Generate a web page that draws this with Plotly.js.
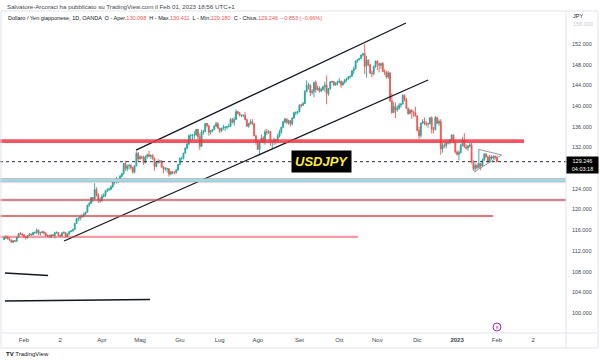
<!DOCTYPE html>
<html><head><meta charset="utf-8">
<script src="https://cdn.plot.ly/plotly-3.0.1.min.js"></script>
<style>html,body{margin:0;padding:0;background:#fff}#chart{width:600px;height:360px}</style>
</head><body><div id="chart"></div>
<script>
// ---- DATA (USD/JPY daily, OANDA, from 2022-01-17 to 2023-02-01, weekdays) ----
const startDate = '2022-01-17';
const open = [
114.18,114.60,114.62,114.32,114.12,113.68,113.94,113.86,114.64,115.34,115.24,
115.10,114.68,114.58,114.98,115.22,115.08,115.55,115.58,116.02,115.42,115.58,115.68,115.48,114.92,115.02,114.72,115.08,114.98,115.52,115.58,
114.98,114.90,115.48,115.52,114.82,115.28,115.72,115.88,116.12,117.30,118.22,118.32,118.72,118.62,119.18,119.48,120.82,121.18,122.32,122.04,123.84,122.82,121.82,
121.68,122.52,122.78,123.62,123.82,123.98,124.34,125.42,125.38,125.62,125.88,126.42,126.92,128.88,127.92,128.40,128.52,128.12,127.22,128.42,130.82,
129.78,130.18,130.08,129.10,130.22,130.58,130.30,130.42,129.92,128.32,129.22,129.18,129.38,128.22,127.78,127.88,127.90,126.88,127.32,127.12,127.10,127.62,
128.68,129.88,129.90,130.88,131.88,132.62,134.28,134.38,134.40,134.40,135.48,134.08,132.22,134.98,135.08,136.62,136.22,134.92,135.22,135.48,136.12,136.58,
135.72,135.20,135.70,135.88,135.92,136.00,136.10,137.42,136.88,137.42,138.92,138.58,138.18,138.20,138.22,137.38,136.10,136.68,136.98,136.60,134.28,
133.28,131.62,133.18,133.82,133.00,135.02,134.92,135.08,132.92,132.98,133.48,133.32,134.20,134.98,135.90,136.98,137.48,136.80,137.18,136.58,137.68,138.72,138.78,
138.90,140.22,140.18,140.50,142.80,143.98,144.08,142.62,142.80,144.58,143.18,143.48,142.92,143.18,143.72,144.08,142.38,143.38,144.70,144.78,144.12,144.42,
144.70,144.82,144.12,144.58,145.08,145.28,145.68,145.78,146.82,147.20,148.70,148.98,149.22,149.88,150.12,147.68,148.92,147.98,146.38,146.30,147.62,
148.70,148.18,147.88,148.22,146.62,146.58,145.62,146.38,141.02,138.78,139.92,139.28,139.58,140.18,140.38,142.08,141.22,139.58,138.58,139.18,138.92,138.68,
138.08,135.30,134.28,136.72,137.02,136.58,136.52,136.58,137.72,135.58,135.48,137.80,136.68,137.02,131.72,132.42,132.38,132.88,132.90,133.50,134.42,133.08,
131.10,130.68,131.00,132.42,133.38,132.08,131.88,132.28,132.48,129.22,127.88,128.52,128.12,128.88,128.42,129.58,130.72,130.18,129.22,130.22,129.88,130.28,
130.098];
const high = [
114.66,115.06,114.90,114.62,114.20,114.08,114.10,114.70,115.48,115.68,115.50,
115.20,114.78,115.05,115.48,115.38,115.68,115.72,116.34,116.10,115.62,115.88,115.82,115.58,115.18,115.12,115.22,115.28,115.72,115.78,115.62,
115.20,115.62,115.80,115.60,115.40,115.82,116.02,116.30,117.38,118.38,118.48,118.88,119.10,119.40,119.58,120.95,121.42,122.42,122.45,125.10,124.30,123.18,122.40,
122.98,123.18,123.70,124.08,124.20,124.68,125.78,125.62,126.32,125.92,126.68,127.08,128.98,129.42,128.68,128.82,128.78,128.30,128.58,131.25,131.12,
130.48,130.38,130.40,130.42,130.78,131.35,130.68,130.70,130.02,129.38,129.78,129.58,129.50,128.38,128.20,128.10,127.98,127.42,127.48,127.40,127.88,128.80,
130.10,130.20,131.00,132.00,133.00,134.48,134.58,134.62,135.20,135.58,135.60,134.68,135.42,135.40,136.72,136.72,136.32,135.40,135.60,136.38,136.98,136.88,
135.82,135.82,136.40,136.08,136.18,136.58,137.70,137.72,137.88,139.38,139.10,138.88,138.40,138.40,138.88,137.58,136.72,137.42,137.48,136.62,134.40,
133.40,133.20,134.52,134.20,135.50,135.58,135.38,135.20,133.38,133.90,133.68,134.68,135.40,135.98,137.18,137.70,137.62,137.38,137.28,137.80,138.90,138.98,139.08,
140.28,140.38,140.80,143.08,144.99,144.50,144.18,143.30,144.70,144.94,143.98,143.80,143.58,143.88,144.70,145.90,143.48,144.78,144.88,144.80,144.60,144.90,
145.42,144.90,144.80,145.20,145.48,145.80,145.90,146.90,147.62,148.82,149.08,149.30,149.92,150.30,151.94,149.70,149.00,148.10,146.88,147.88,148.80,
148.82,148.40,148.40,148.50,147.12,146.80,146.78,146.60,142.48,140.80,140.70,140.10,140.60,140.60,142.28,142.22,141.62,139.68,139.40,139.38,139.00,139.88,
138.20,135.98,136.80,137.48,137.82,137.10,136.80,137.88,138.00,135.98,138.10,137.88,137.40,137.48,132.88,132.80,133.00,133.08,133.60,134.50,134.50,133.18,
131.38,131.42,132.70,134.08,134.78,132.68,132.48,132.88,132.90,129.50,128.88,128.90,131.58,128.90,129.88,130.90,130.90,130.48,130.60,130.48,130.48,130.48,
130.411];
const low = [
114.15,114.30,114.22,114.00,113.62,113.47,113.72,113.80,114.50,115.10,114.92,
114.56,114.15,114.38,114.88,114.98,115.02,115.28,115.22,115.02,114.95,115.38,115.20,114.82,114.72,114.62,114.55,114.88,114.40,115.30,114.82,
114.68,114.78,115.28,114.65,114.78,115.10,115.60,115.70,116.02,117.20,117.70,117.85,118.32,118.50,118.90,119.40,120.50,121.10,121.40,121.98,122.48,121.30,121.28,
121.60,122.32,122.40,123.40,123.60,123.70,124.28,124.80,125.02,125.08,125.80,126.20,126.78,127.48,127.40,127.72,127.72,126.95,127.02,128.38,129.32,
129.68,129.78,128.62,128.88,129.82,130.18,129.82,129.62,127.52,128.12,128.82,128.90,128.00,127.02,127.52,127.12,126.36,126.62,126.80,126.90,127.00,127.50,
128.58,129.50,129.70,130.80,131.62,132.50,133.20,133.40,133.62,134.30,133.58,131.50,132.10,134.48,134.98,135.90,134.28,134.50,134.98,135.32,135.92,135.60,
134.78,135.00,135.38,135.20,135.50,135.88,136.00,136.60,136.20,137.30,138.40,138.00,137.82,137.88,137.38,135.98,135.80,136.40,136.30,134.20,132.50,
131.58,130.40,132.90,132.80,132.52,134.38,134.62,132.30,131.72,132.50,132.58,133.08,133.90,134.60,135.80,136.68,136.50,136.40,136.08,136.20,137.58,138.20,138.38,
138.80,139.70,140.02,140.40,142.70,143.20,141.90,142.20,141.70,142.58,143.00,142.60,142.68,143.00,142.80,140.35,142.00,143.10,144.40,143.80,143.90,144.00,
144.40,143.52,143.92,144.28,144.70,145.10,145.30,145.70,146.20,147.10,148.40,148.82,149.10,149.60,146.20,145.50,147.70,146.20,145.60,145.90,147.40,
146.98,146.50,147.20,146.58,146.00,145.30,145.30,140.80,138.48,138.70,137.68,138.90,139.30,139.70,140.30,140.90,139.50,138.30,138.40,137.50,137.90,137.98,
135.10,133.62,133.90,136.50,136.30,136.10,135.80,136.50,134.70,134.70,135.30,136.50,136.20,130.58,130.98,131.90,131.80,132.60,132.60,133.30,132.80,130.80,
130.40,129.52,130.80,132.20,131.98,131.58,131.30,132.00,128.88,127.48,127.22,127.80,127.98,127.58,128.20,129.40,130.00,129.08,129.00,129.62,129.80,129.80,
129.180];
const close = [
114.60,114.62,114.32,114.12,113.68,113.94,113.86,114.64,115.34,115.24,115.10,
114.68,114.58,114.98,115.22,115.08,115.55,115.58,116.02,115.42,115.58,115.68,115.48,114.92,115.02,114.72,115.08,114.98,115.52,115.58,114.98,
114.90,115.48,115.52,114.82,115.28,115.72,115.88,116.12,117.30,118.22,118.32,118.72,118.62,119.18,119.48,120.82,121.18,122.32,122.04,123.84,122.82,121.82,121.68,
122.52,122.78,123.62,123.82,123.98,124.34,125.42,125.38,125.62,125.88,126.42,126.92,128.88,127.92,128.40,128.52,128.12,127.22,128.42,130.82,129.78,
130.18,130.08,129.10,130.22,130.58,130.30,130.42,129.92,128.32,129.22,129.18,129.38,128.22,127.78,127.88,127.90,126.88,127.32,127.12,127.10,127.62,128.68,
129.88,129.90,130.88,131.88,132.62,134.28,134.38,134.40,134.40,135.48,134.08,132.22,134.98,135.08,136.62,136.22,134.92,135.22,135.48,136.12,136.58,135.72,
135.20,135.70,135.88,135.92,136.00,136.10,137.42,136.88,137.42,138.92,138.58,138.18,138.20,138.22,137.38,136.10,136.68,136.98,136.60,134.28,133.28,
131.62,133.18,133.82,133.00,135.02,134.92,135.08,132.92,132.98,133.48,133.32,134.20,134.98,135.90,136.98,137.48,136.80,137.18,136.58,137.68,138.72,138.78,138.90,
140.22,140.18,140.50,142.80,143.98,144.08,142.62,142.80,144.58,143.18,143.48,142.92,143.18,143.72,144.08,142.38,143.38,144.70,144.78,144.12,144.42,144.70,
144.82,144.12,144.58,145.08,145.28,145.68,145.78,146.82,147.20,148.70,148.98,149.22,149.88,150.12,147.68,148.92,147.98,146.38,146.30,147.62,148.70,
148.18,147.88,148.22,146.62,146.58,145.62,146.38,141.02,138.78,139.92,139.28,139.58,140.18,140.38,142.08,141.22,139.58,138.58,139.18,138.92,138.68,138.08,
135.30,134.28,136.72,137.02,136.58,136.52,136.58,137.72,135.58,135.48,137.80,136.68,137.02,131.72,132.42,132.38,132.88,132.90,133.50,134.42,133.08,131.10,
130.68,131.00,132.42,133.38,132.08,131.88,132.28,132.48,129.22,127.88,128.52,128.12,128.88,128.42,129.58,130.72,130.18,129.22,130.22,129.88,130.28,130.10,
129.246];

// x-axis month labels (Italian TradingView) and the month each one marks
const tickMonths = ['2022-02','2022-03','2022-04','2022-05','2022-06','2022-07','2022-08','2022-09','2022-10','2022-11','2022-12','2023-01','2023-02','2023-03'];
const tickLabels = ['Feb','2','Apr','Mag','Giu','Lug','Ago','Set','Ott','Nov','Dic','<b>2023</b>','Feb','2'];
// price axis
const priceTicks = [100,104,108,112,116,120,124,132,136,140,144,148,152];

// drawings (bar index, price)
const upperChX = [72.8, 221.8],  upperChY = [131.5, 156.06];
const lowerChX = [33.1, 234.0],  lowerChY = [113.92, 145.04];
const triTopX  = [261.7, 274.6], triTopY  = [131.64, 130.54];
const triBotX  = [259.5, 274.6], triBotY  = [127.31, 130.54];
const segAX = [0.5, 24.3], segAY = [107.73, 107.25];
const segBX = [0.5, 80.5], segBY = [102.32, 102.61];
// horizontal zones / levels
const bandLow  = [132.88, 125.30, 121.66];
const bandHigh = [133.60, 125.98, 122.02];
const bandEnd  = [286.9, 330, 330];
const lineLevels = [118.75, 114.70];
const lineEnd    = [269.8, 195.3];

// ---- build ----
const idx = open.map((_, i) => i);
// weekday calendar to locate the first bar of each month
const firstBarOfMonth = {};
{
  let d = new Date(startDate + 'T00:00:00Z'), k = 0;
  while (k < 330) {
    const wd = d.getUTCDay();
    if (wd !== 0 && wd !== 6) {
      const m = d.toISOString().slice(0, 7);
      if (!(m in firstBarOfMonth)) firstBarOfMonth[m] = k;
      k++;
    }
    d.setUTCDate(d.getUTCDate() + 1);
  }
}
const tickVals = tickMonths.map(m => firstBarOfMonth[m]);

// pixel geometry of the plotting area
const W = 600, H = 360, PL = 0, PR = 566, PT = 11, PB = 333;
const px = x => (x - PL) / (PR - PL);
const py = y => (PB - y) / (PB - PT);

const FONT = 'Liberation Sans, Arial, sans-serif';
const lastClose = close[close.length - 1];

const traces = [
  {
    type: 'candlestick', x: idx, open, high, low, close,
    increasing: {line: {color: '#26a69a', width: 0.9}, fillcolor: '#26a69a'},
    decreasing: {line: {color: '#ef5350', width: 0.9}, fillcolor: '#ef5350'},
    whiskerwidth: 0, hoverinfo: 'skip', showlegend: false
  },
  {type: 'scatter', mode: 'lines', x: upperChX, y: upperChY, line: {color: '#131722', width: 1.3}, hoverinfo: 'skip'},
  {type: 'scatter', mode: 'lines', x: lowerChX, y: lowerChY, line: {color: '#131722', width: 1.3}, hoverinfo: 'skip'},
  {type: 'scatter', mode: 'lines', x: triTopX, y: triTopY, line: {color: '#9598a1', width: 1}, hoverinfo: 'skip'},
  {type: 'scatter', mode: 'lines', x: triBotX, y: triBotY, line: {color: '#9598a1', width: 1}, hoverinfo: 'skip'},
  {type: 'scatter', mode: 'lines', x: segAX, y: segAY, line: {color: '#131722', width: 1.4}, hoverinfo: 'skip'},
  {type: 'scatter', mode: 'lines', x: segBX, y: segBY, line: {color: '#131722', width: 1.4}, hoverinfo: 'skip'}
];

const bandFill = ['rgba(242,54,69,0.85)', '#8fe3ee', 'rgba(150,90,95,0.6)'];
const bandLine = ['rgba(242,54,69,0)', 'rgba(242,110,120,0.5)', 'rgba(242,54,69,0.3)'];
const shapes = [];
bandLow.forEach((lo, i) => shapes.push({
  type: 'rect', xref: 'x', yref: 'y', x0: -10, x1: bandEnd[i], y0: lo, y1: bandHigh[i],
  fillcolor: bandFill[i], line: {color: bandLine[i], width: 1}, layer: 'above'
}));
const lineCol = ['rgba(225,70,78,0.75)', 'rgba(242,54,69,0.5)'];
lineLevels.forEach((v, i) => shapes.push({
  type: 'line', xref: 'x', yref: 'y', x0: -10, x1: lineEnd[i], y0: v, y1: v,
  line: {color: lineCol[i], width: 2.2}, layer: 'above'
}));
// last price dotted line
shapes.push({type: 'line', xref: 'paper', yref: 'y', x0: 0, x1: 1, y0: lastClose, y1: lastClose,
  line: {color: '#2a2e39', width: 1, dash: 'dot'}, layer: 'above'});
// frame / separators
shapes.push({type: 'rect', xref: 'paper', yref: 'paper', x0: px(1), x1: px(598), y0: py(11), y1: py(348),
  line: {color: '#e0e3eb', width: 1}, fillcolor: 'rgba(0,0,0,0)'});
shapes.push({type: 'line', xref: 'paper', yref: 'paper', x0: px(566), x1: px(566), y0: py(11), y1: py(348),
  line: {color: '#e0e3eb', width: 1}});
shapes.push({type: 'line', xref: 'paper', yref: 'paper', x0: px(1), x1: px(598), y0: py(333), y1: py(333),
  line: {color: '#e0e3eb', width: 1}});
// event marker
shapes.push({type: 'circle', xref: 'paper', yref: 'paper', x0: px(493), x1: px(501), y0: py(331), y1: py(323),
  line: {color: '#9c27b0', width: 1}, fillcolor: '#fff'});

const red = '#ef5350';
const annotations = [
  {xref: 'paper', yref: 'paper', x: px(5), y: py(7), xanchor: 'left', yanchor: 'middle', showarrow: false,
   text: 'Salvatore-Arcoraci ha pubblicato su TradingView.com il Feb 01, 2023 18:56 UTC+1',
   font: {family: FONT, size: 6.2, color: '#434651'}},
  {xref: 'paper', yref: 'paper', x: px(6), y: py(17.5), xanchor: 'left', yanchor: 'middle', showarrow: false,
   text: 'Dollaro / Yen giapponese, 1D, OANDA  O - Aper.<span style="color:' + red + '">130.098</span>  H - Max.<span style="color:' + red + '">130.411</span>  L - Min.<span style="color:' + red + '">129.180</span>  C - Chius.<span style="color:' + red + '">129.246  \u22120.853 (\u22120.66%)</span>',
   font: {family: FONT, size: 5.5, color: '#131722'}},
  {xref: 'paper', yref: 'paper', x: px(571), y: py(16), xanchor: 'left', yanchor: 'middle', showarrow: false,
   text: 'JPY', font: {family: FONT, size: 5.5, color: '#131722'}},
  {xref: 'paper', yref: 'paper', x: px(571), y: py(23.5), xanchor: 'left', yanchor: 'middle', showarrow: false,
   text: '156.000', font: {family: FONT, size: 5.5, color: '#c8cad0'}},
  {xref: 'paper', yref: 'paper', x: px(321.5), y: py(161.5), xanchor: 'center', yanchor: 'middle', showarrow: false,
   text: '<b><i>USDJPY</i></b>', bgcolor: '#000', borderpad: 3,
   font: {family: FONT, size: 13, color: '#ffeb3b'}},
  {xref: 'paper', yref: 'paper', x: px(582), y: py(164.5), xanchor: 'center', yanchor: 'middle', showarrow: false,
   text: '129.246<br>04:03:18', bgcolor: '#000', width: 30, height: 15, borderpad: 0.5,
   font: {family: FONT, size: 5.5, color: '#fff'}},
  {xref: 'paper', yref: 'paper', x: px(497), y: py(327), xanchor: 'center', yanchor: 'middle', showarrow: false,
   text: 'E', font: {family: FONT, size: 4, color: '#9c27b0'}},
  {xref: 'paper', yref: 'paper', x: px(4), y: py(353.5), xanchor: 'left', yanchor: 'middle', showarrow: false,
   text: '<b>TV</b> TradingView', font: {family: FONT, size: 6, color: '#131722'}}
];

const layout = {
  width: W, height: H,
  margin: {l: PL, r: W - PR, t: PT, b: H - PB, pad: 0},
  paper_bgcolor: '#fff', plot_bgcolor: '#fff',
  showlegend: false, hovermode: false, dragmode: false,
  xaxis: {
    range: [-2.24, 310.1], rangeslider: {visible: false}, showgrid: false, zeroline: false,
    tickmode: 'array', tickvals: tickVals, ticktext: tickLabels, ticks: '',
    tickfont: {family: FONT, size: 6, color: '#434651'}, showline: false, fixedrange: true,
    ticklabelstandoff: 2
  },
  yaxis: {
    side: 'right', range: [96.13, 158.38], showgrid: false, zeroline: false,
    tickmode: 'array', tickvals: priceTicks, ticktext: priceTicks.map(v => v.toFixed(3)), ticks: '',
    tickfont: {family: FONT, size: 5.5, color: '#434651'}, showline: false, fixedrange: true,
    ticklabelstandoff: 5
  },
  shapes, annotations
};

Plotly.newPlot('chart', traces, layout, {displayModeBar: false, staticPlot: true});
</script></body></html>
